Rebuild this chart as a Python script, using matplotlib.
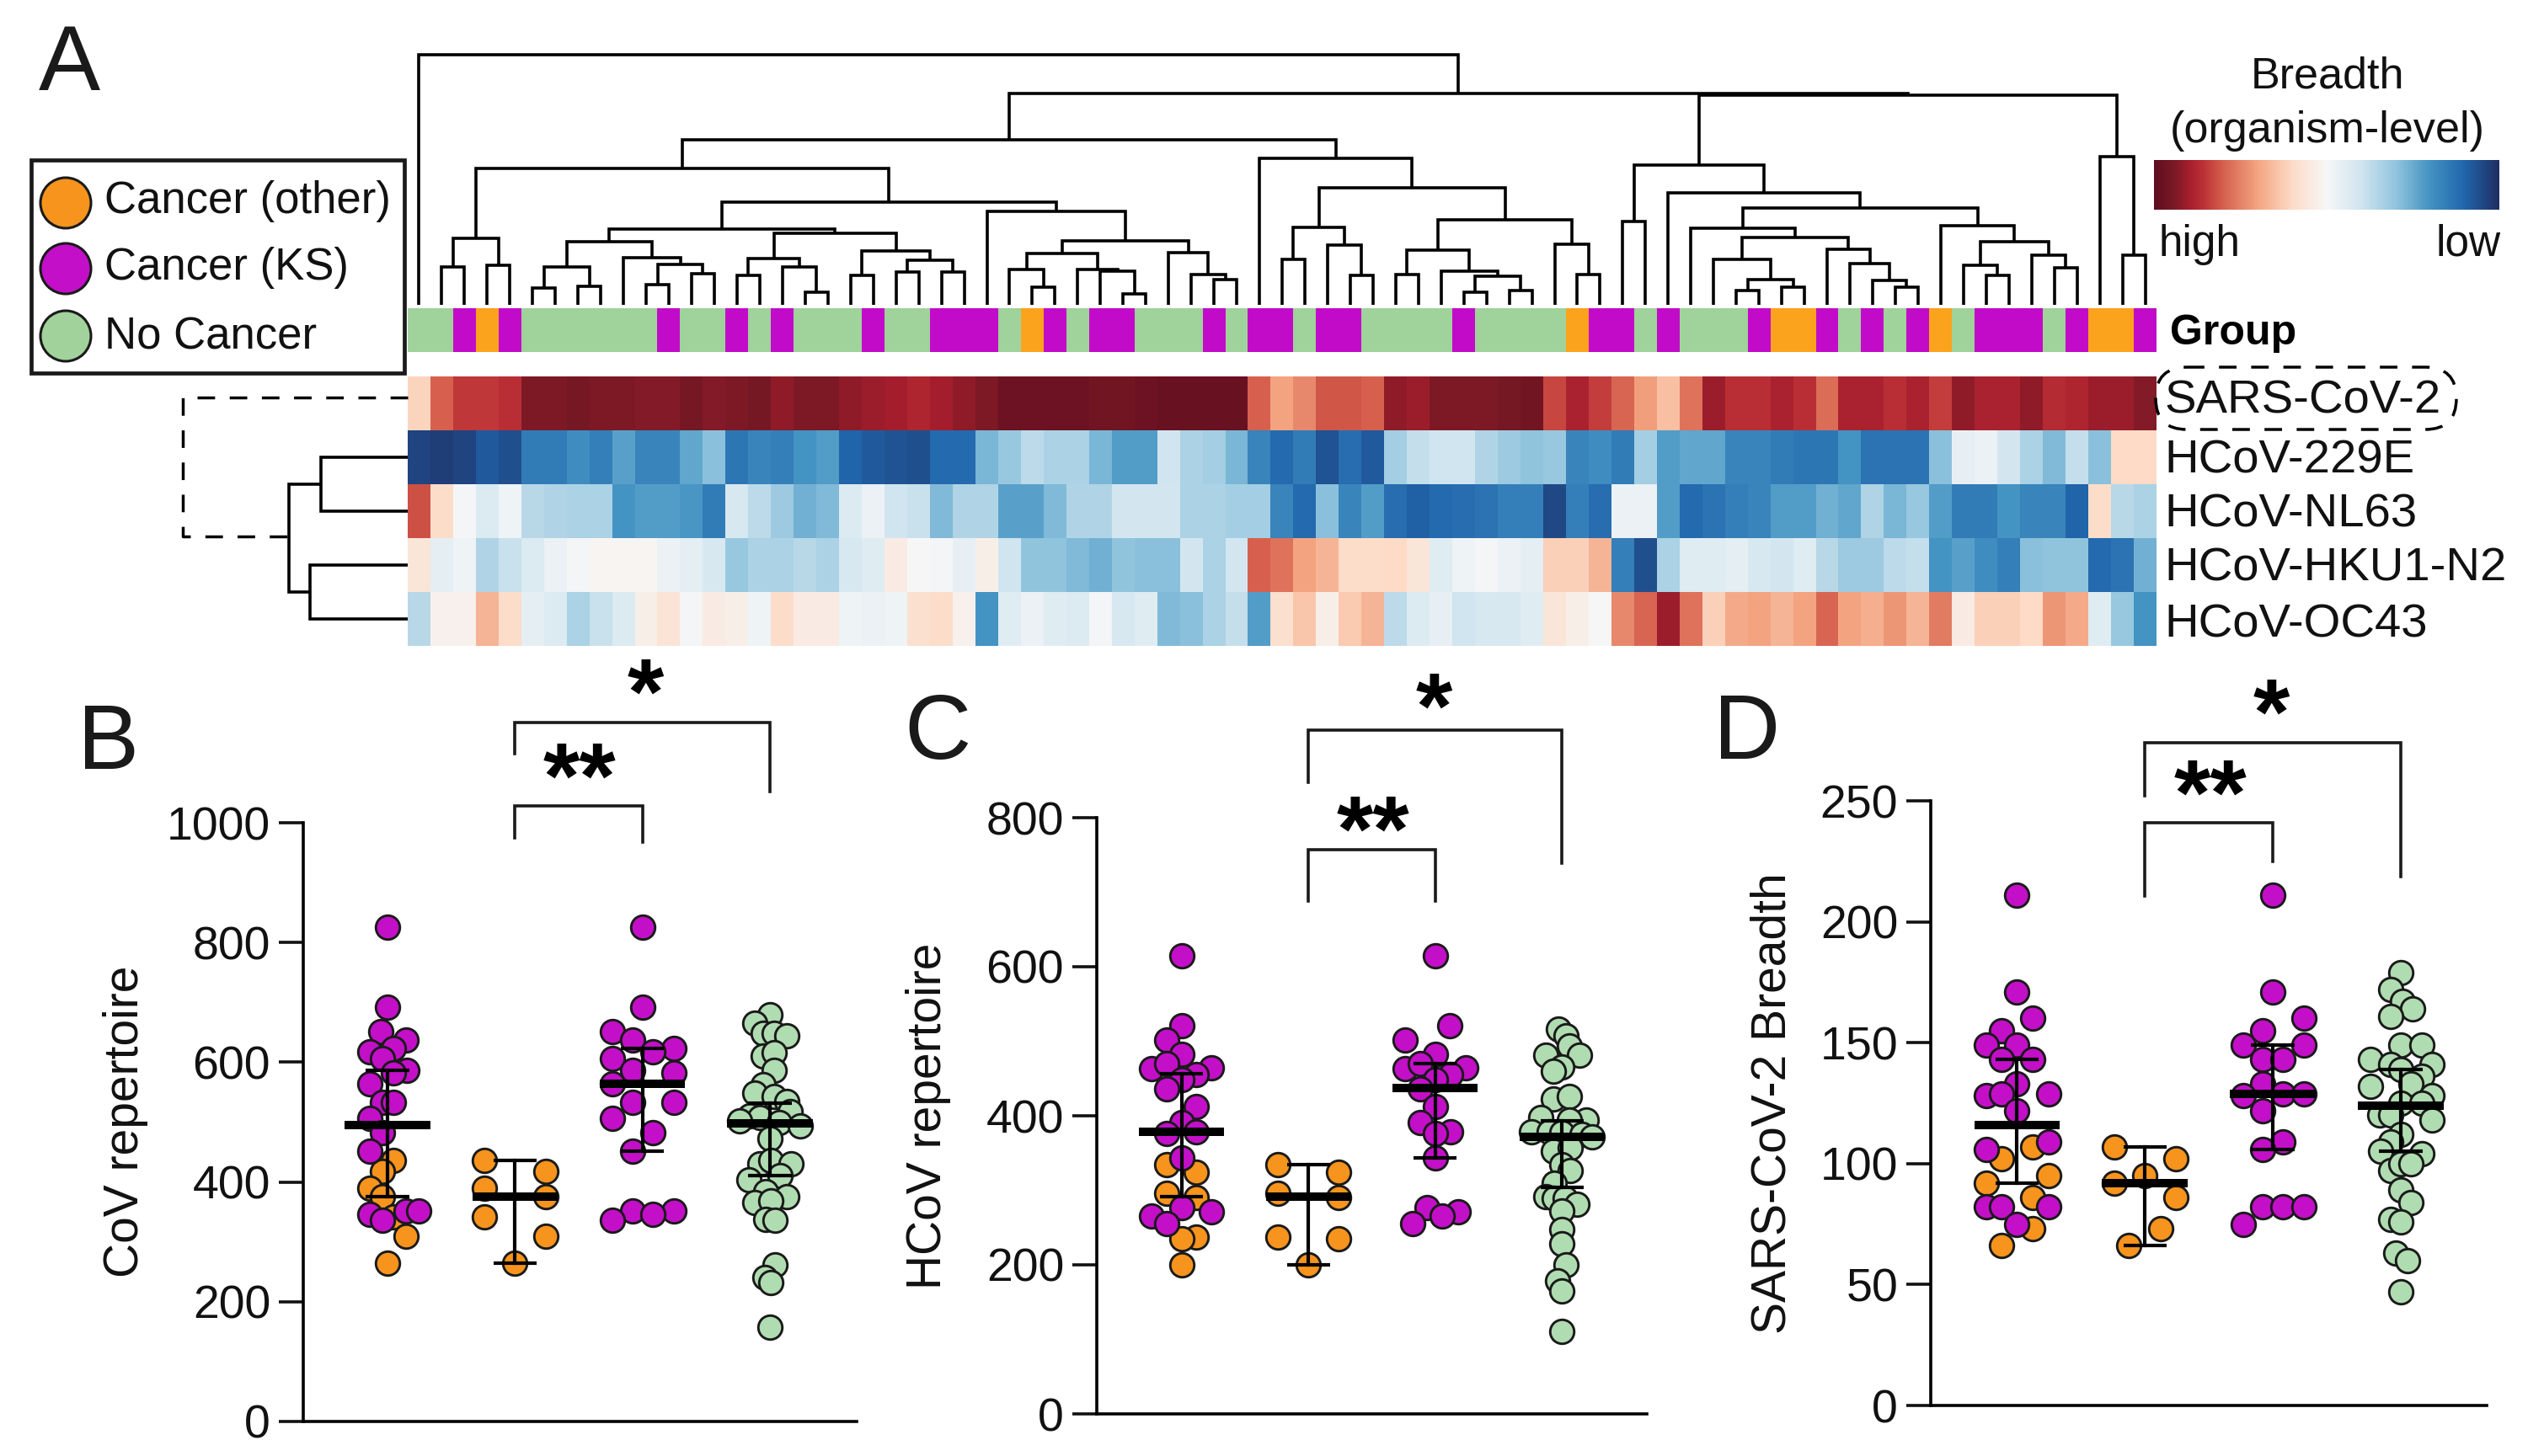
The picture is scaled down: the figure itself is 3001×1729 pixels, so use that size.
import numpy as np
import matplotlib
matplotlib.use('Agg')
import matplotlib.pyplot as plt
from matplotlib.colors import LinearSegmentedColormap, ListedColormap
from matplotlib.patches import FancyBboxPatch, Rectangle, Circle

W, H = 3001, 1729
plt.rcParams['font.family'] = ['Liberation Sans', 'DejaVu Sans']

ORANGE = '#f7941d'
MAGENTA = '#c30fc8'
GREEN = '#b0dcb1'
EDGE = '#1a1a1a'

# heatmap rows, values on a 0 (high, dark red) .. 100 (low, dark blue) scale
viruses = ['SARS-CoV-2', 'HCoV-229E', 'HCoV-NL63', 'HCoV-HKU1-N2', 'HCoV-OC43']
sars2 = [39, 20, 15, 15, 14, 6, 6, 5, 6, 6, 7, 7, 5, 7, 6, 5, 8, 6, 6, 8, 9, 10, 12, 10, 8, 6,
         3, 3, 3, 3, 4, 4, 3, 2, 2, 2, 2, 20, 30, 26, 19, 19, 20, 8, 9, 6, 6, 6, 5, 4, 17, 11,
         16, 21, 29, 35, 23, 9, 14, 14, 11, 14, 22, 11, 11, 14, 11, 16, 8, 11, 11, 8, 13, 12, 9, 9, 7]
hcov_229e = [96, 97, 96, 92, 94, 85, 85, 81, 84, 77, 83, 83, 76, 71, 86, 83, 84, 80, 78, 90, 92, 93, 94, 89, 89, 73,
             69, 63, 66, 66, 73, 78, 78, 60, 66, 67, 73, 83, 89, 85, 93, 88, 92, 67, 62, 60, 60, 65, 68, 70, 69, 83,
             81, 85, 67, 78, 76, 76, 83, 83, 85, 86, 86, 80, 87, 87, 87, 71, 54, 53, 59, 66, 72, 62, 71, 40, 40]
hcov_nl63 = [18, 41, 51, 57, 52, 64, 65, 66, 66, 80, 78, 78, 79, 85, 58, 63, 68, 74, 72, 57, 53, 60, 61, 72, 65, 65,
             77, 77, 72, 65, 65, 59, 59, 59, 66, 66, 67, 67, 83, 89, 71, 83, 78, 88, 91, 89, 88, 87, 84, 84, 95, 84,
             88, 53, 53, 78, 89, 87, 84, 83, 78, 78, 74, 76, 65, 73, 69, 78, 85, 85, 80, 83, 83, 90, 41, 64, 66]
hcov_hku1 = [44, 55, 52, 65, 61, 57, 53, 51, 49, 49, 49, 53, 55, 58, 69, 66, 66, 64, 66, 58, 56, 46, 50, 51, 54, 47,
             60, 70, 70, 72, 74, 70, 71, 71, 59, 66, 59, 20, 23, 30, 33, 41, 41, 40, 44, 56, 52, 51, 53, 55, 38, 38,
             33, 84, 94, 66, 56, 56, 55, 58, 59, 56, 64, 68, 68, 63, 62, 80, 77, 81, 84, 71, 70, 70, 89, 87, 74]
hcov_oc43 = [64, 48, 48, 33, 41, 55, 57, 66, 61, 57, 47, 43, 51, 46, 47, 52, 41, 46, 46, 52, 53, 52, 42, 41, 48, 80,
             56, 53, 56, 57, 51, 58, 56, 72, 71, 66, 62, 78, 42, 36, 47, 37, 33, 63, 57, 54, 60, 58, 58, 56, 44, 47,
             50, 26, 21, 9, 23, 38, 31, 30, 33, 30, 21, 30, 32, 28, 33, 24, 46, 38, 38, 40, 28, 31, 56, 69, 80]

# sample annotation: 0 no cancer, 1 cancer (KS), 2 cancer (other)
group_strip = [0, 0, 1, 2, 1, 0, 0, 0, 0, 0, 0, 1, 0, 0, 1, 0, 1, 0, 0, 0, 1, 0, 0, 1, 1, 1,
               0, 2, 1, 0, 1, 1, 0, 0, 0, 1, 0, 1, 1, 0, 1, 1, 0, 0, 0, 0, 1, 0, 0, 0, 0, 2,
               1, 1, 0, 1, 0, 0, 0, 1, 2, 2, 1, 0, 1, 0, 1, 2, 0, 1, 1, 1, 0, 1, 2, 2, 1]


def N(h, a, b):
    return (h, a, b)


# sample dendrogram, (height, left, right) with column numbers as leaves
tree_a = N(79, N(45, 1, 2), N(47, 3, 4))
tree_c3 = N(75, N(45, N(20, 5, 6), N(22, 7, 8)), N(56, 9, N(48, N(24, 10, 11), N(37, 12, 13))))
tree_c6 = N(85, N(55, N(35, 14, 15), N(45, 16, N(15, 17, 18))),
            N(64, N(35, 19, 20), N(53, N(39, 21, 22), N(39, 23, 24))))
tree_d3 = N(61, N(42, 26, N(21, 27, 28)), N(42, 29, N(40, 30, N(13, 31, 32))))
tree_d4 = N(62, 33, N(36, 34, N(30, 35, 36)))
tree_e = N(122, N(90, tree_c3, tree_c6), N(111, 25, N(76, tree_d3, tree_d4)))
tree_g1 = N(92, N(54, 38, 39), N(71, 40, N(35, 41, 42)))
tree_g2 = N(65, N(36, 43, 44), N(40, 45, N(34, N(15, 46, 47), N(17, 48, 49))))
tree_g5 = N(139, tree_g1, N(101, tree_g2, N(72, 50, N(36, 51, 52))))
tree_h = N(196, N(162, tree_a, tree_e), N(174, 37, tree_g5))
tree_i2 = N(66, 62, N(49, 63, N(29, 64, N(21, 65, 66))))
tree_i3 = N(54, 57, N(30, N(17, 58, 59), N(21, 60, 61)))
tree_j3 = N(75, N(47, 68, N(35, 69, 70)), N(59, 71, N(44, 72, 73)))
tree_k = N(115, N(91, 56, N(80, tree_i3, tree_i2)), N(94, 67, tree_j3))
tree_m = N(166, N(99, 53, 54), N(133, 55, tree_k))
tree_s = N(249, tree_m, N(176, 74, N(59, 75, 76)))
sample_tree = N(297, 0, N(251, tree_h, tree_s))

# virus dendrogram, same form with row numbers as leaves
row_tree = N(141, N(103, 1, 2), N(116, 3, 4))

# panel B
b_ks = [826, 692, 651, 637, 623, 618, 606, 586, 582, 564, 533, 533, 507, 482, 452, 351, 352, 346, 336]
b_ks_x1 = [0, 0, -.05, .145, .05, -.14, -.04, .15, .05, -.14, -.04, .05, -.14, -.04, -.14, .145, .245, -.14, -.04]
b_ks_x3 = [0, 0, -.235, -.08, .245, .08, -.235, -.08, .245, -.235, -.08, .245, -.235, .08, -.08, .245, -.08, .08, -.235]
b_other = [436, 418, 389, 376, 342, 310, 265]
b_other_x1 = [.05, -.04, -.14, -.04, .05, .145, 0]
b_other_x2 = [-.24, .245, -.24, .245, -.24, .245, 0]
b_none = [679, 665, 649, 649, 644, 611, 616, 586, 562, 548, 543, 534, 518, 511, 508, 502, 499,
          494, 473, 431, 436, 431, 410, 403, 384, 375, 365, 368, 337, 336, 262, 240, 232, 158]
b_none_x = [0, -.12, -.05, .03, .13, -.05, .03, .03, -.05, -.12, .03, .13, .155, -.16, -.08, -.24, .07,
            .24, 0, -.08, .005, .165, .08, -.165, -.035, .13, -.12, .005, -.035, .04, .04, -.04, .005, 0]
b_mean = [495, 376, 564, 498]
b_low = [376, 265, 452, 410]
b_high = [586, 436, 623, 532]

# panel C
c_ks = [615, 521, 502, 483, 463, 470, 464, 455, 449, 436, 412, 391, 379, 376, 344, 277, 271, 266, 255]
c_ks_x1 = [0, 0, -.12, 0, -.24, -.12, .235, .115, 0, -.12, .115, 0, .115, -.12, 0, 0, .235, -.24, -.12]
c_ks_x3 = [0, .115, -.235, 0, -.235, -.12, .24, .12, 0, -.12, 0, -.12, .12, 0, 0, -.065, .18, .055, -.18]
c_other = [335, 324, 296, 290, 237, 235, 200]
c_other_x1 = [-.12, .115, -.12, .115, .115, 0, 0]
c_other_x2 = [-.24, .24, -.24, .24, -.24, .24, 0]
c_none = [516, 507, 494, 481, 481, 466, 460, 423, 426, 398, 394, 394, 379, 379, 377, 375, 372,
          353, 357, 334, 327, 310, 291, 289, 289, 281, 272, 248, 228, 200, 178, 165, 111]
c_none_x = [-.03, .03, .06, .135, -.125, 0, -.07, -.07, .06, -.165, .19, .06, -.24, -.1, 0, .155, .24,
            -.07, .065, 0, .065, -.06, -.125, -.06, .025, .12, 0, 0, 0, .035, -.035, 0, 0]
c_mean = [378, 291, 437, 372]
c_low = [291, 200, 344, 304]
c_high = [456, 335, 470, 393]

# panel D
d_ks = [211, 171, 160, 155, 149, 149, 143, 143, 133, 128, 129, 129, 122, 109, 106, 82, 82, 82, 75]
d_ks_x1 = [0, 0, .12, -.12, -.24, 0, -.12, .12, 0, -.24, -.12, .245, 0, .245, -.24, -.24, -.12, .245, 0]
d_ks_x3 = [0, 0, .245, -.08, -.235, .245, -.08, .08, -.08, -.235, .08, .245, -.08, .08, -.08, -.08, .08, .245, -.235]
d_other = [107, 102, 95, 92, 86, 73, 66]
d_other_x1 = [.12, -.12, .245, -.24, .12, .12, -.12]
d_other_x2 = [-.24, .24, 0, -.24, .24, .12, -.125]
d_none = [179, 172, 167, 164, 161, 149, 149, 143, 141, 141, 139, 136, 133, 132, 128, 125, 125,
          120, 120, 118, 112, 109, 105, 104, 97, 100, 100, 89, 84, 77, 76, 63, 60, 47]
d_none_x = [0, -.08, .015, .09, -.08, 0, .165, -.24, -.08, .245, 0, .165, .08, -.24, .245, 0, .165,
            -.165, -.08, .245, 0, -.08, -.16, .165, -.08, 0, .08, 0, .08, -.08, 0, -.04, .05, 0]
d_mean = [116, 92, 129, 124]
d_low = [92, 66, 106, 105]
d_high = [143, 107, 149, 139]


def axes_px(fig, x0, y0, x1, y1):
    # axes from pixel box, y counted from the top of the picture
    return fig.add_axes([x0 / W, 1 - y1 / H, (x1 - x0) / W, (y1 - y0) / H])


def tree_lines(node, out):
    # returns (position, height) of the node, collects the U shapes in out
    if not isinstance(node, tuple):
        return node + 0.5, 0
    h, left, right = node
    xa, ha = tree_lines(left, out)
    xb, hb = tree_lines(right, out)
    out.append(([xa, xa, xb, xb], [ha, h, h, hb]))
    return (xa + xb) / 2, h


def draw_panel(fig, box, ylim, yticks, xlim, ks, ks_x1, ks_x3, other, other_x1, other_x2,
               none, none_x, mean, low, high, brackets):
    ax = axes_px(fig, *box)
    ax.set_xlim(*xlim)
    ax.set_ylim(*ylim)
    # mixed cancer column, then the three groups
    ax.scatter(other_x1, other, s=420, c=ORANGE, edgecolors=EDGE, linewidths=2.1, zorder=3, clip_on=False)
    ax.scatter(ks_x1, ks, s=420, c=MAGENTA, edgecolors=EDGE, linewidths=2.1, zorder=3, clip_on=False)
    ax.scatter(1 + np.array(other_x2), other, s=420, c=ORANGE, edgecolors=EDGE, linewidths=2.1, zorder=3)
    ax.scatter(2 + np.array(ks_x3), ks, s=420, c=MAGENTA, edgecolors=EDGE, linewidths=2.1, zorder=3)
    ax.scatter(3 + np.array(none_x), none, s=420, c=GREEN, edgecolors=EDGE, linewidths=2.1, zorder=3)
    for i in range(4):
        ax.plot([i, i], [low[i], high[i]], color='black', lw=3, zorder=5)
        for v in (low[i], high[i]):
            ax.plot([i - .17, i + .17], [v, v], color='black', lw=3, zorder=5, solid_capstyle='butt')
        ax.plot([i - .335, i + .335], [mean[i], mean[i]], color='black', lw=7.2, zorder=6, solid_capstyle='butt')
    # significance brackets: x left, x right, top, left end, right end
    for xa, xb, top, ya, yb in brackets:
        ax.plot([xa, xa, xb, xb], [ya, top, top, yb], color='#1a1a1a', lw=2.6, clip_on=False,
                solid_joinstyle='miter')
    ax.spines['top'].set_visible(False)
    ax.spines['right'].set_visible(False)
    ax.spines['left'].set_linewidth(2.6)
    ax.spines['bottom'].set_linewidth(2.6)
    ax.set_xticks([])
    ax.set_yticks(yticks)
    ax.tick_params(axis='y', length=21, width=2.6, labelsize=40, pad=7, colors='#111111')
    ax.patch.set_alpha(0)
    return ax


fig = plt.figure(figsize=(W / 100, H / 100), dpi=100)

# heatmap colours, RdBu like ramp with the duller dark ends of the original key
heat_cmap = LinearSegmentedColormap.from_list(
    'breadth', [(0, '#5f0d20'), (.06, '#7d1a26'), (.1, '#a51e2d'), (.14, '#bb3036'), (.2, '#d6604d'),
                (.3, '#f4a582'), (.4, '#fddbc7'), (.5, '#f7f7f7'), (.6, '#d1e5f0'), (.7, '#92c5de'),
                (.8, '#4393c3'), (.9, '#2166ac'), (1, '#1f2f63')])

heat = np.array([sars2, hcov_229e, hcov_nl63, hcov_hku1, hcov_oc43], dtype=float)
ax_heat = axes_px(fig, 484, 447, 2560, 767)
ax_heat.imshow(heat, cmap=heat_cmap, vmin=0, vmax=100, aspect='auto', interpolation='nearest',
               extent=(0, heat.shape[1], heat.shape[0], 0))
ax_heat.axis('off')

ax_strip = axes_px(fig, 484, 366, 2560, 418)
ax_strip.imshow(np.array([group_strip]), cmap=ListedColormap(['#a0d29b', '#c20bc8', '#fca31d']),
                vmin=0, vmax=2, aspect='auto', interpolation='nearest')
ax_strip.axis('off')

ax_tree = axes_px(fig, 484, 40, 2560, 362)
ax_tree.set_xlim(0, heat.shape[1])
ax_tree.set_ylim(0, 322)
ax_tree.axis('off')
segments = []
tree_lines(sample_tree, segments)
for xs, ys in segments:
    ax_tree.plot(xs, ys, color='black', lw=2.6, solid_joinstyle='miter', solid_capstyle='butt')

ax_rows = axes_px(fig, 217, 447, 484, 767)
ax_rows.set_xlim(267, 0)
ax_rows.set_ylim(5, 0)
ax_rows.axis('off')
segments = []
tree_lines(row_tree, segments)
for xs, ys in segments:
    ax_rows.plot(ys, xs, color='black', lw=2.6, solid_joinstyle='miter', solid_capstyle='butt')

ax_key = axes_px(fig, 2557, 190, 2967, 249)
ax_key.imshow(np.linspace(0, 100, 256)[None, :], cmap=heat_cmap, vmin=0, vmax=100, aspect='auto')
ax_key.axis('off')

draw_panel(fig, (360, 977, 1017, 1688), (0, 1000), [0, 200, 400, 600, 800, 1000], (-.66, 3.68),
           b_ks, b_ks_x1, b_ks_x3, b_other, b_other_x1, b_other_x2, b_none, b_none_x,
           b_mean, b_low, b_high, [(1, 3, 1168, 1115, 1052), (1, 2, 1028, 975, 967)])
draw_panel(fig, (1302, 971, 1955, 1679), (0, 800), [0, 200, 400, 600, 800], (-.67, 3.67),
           c_ks, c_ks_x1, c_ks_x3, c_other, c_other_x1, c_other_x2, c_none, c_none_x,
           c_mean, c_low, c_high, [(1, 3, 918, 847, 739), (1, 2, 757, 688, 688)])
draw_panel(fig, (2292, 951, 2952, 1669), (0, 250), [0, 50, 100, 150, 200, 250], (-.674, 3.67),
           d_ks, d_ks_x1, d_ks_x3, d_other, d_other_x1, d_other_x2, d_none, d_none_x,
           d_mean, d_low, d_high, [(1, 3, 274, 252, 218.5), (1, 2, 241, 210.5, 225)])

# everything else sits on one overlay in picture pixels
ov = fig.add_axes([0, 0, 1, 1], zorder=10)
ov.set_xlim(0, W)
ov.set_ylim(H, 0)
ov.axis('off')

for letter, x, y in [('A', 46, 107), ('B', 92, 913), ('C', 1073, 901), ('D', 2034, 901)]:
    ov.text(x, y, letter, fontsize=79, ha='left', va='baseline', color='#1a1a1a')

ov.add_patch(Rectangle((37, 190), 443, 253, fill=False, edgecolor='#1a1a1a', lw=3.4))
legend_labels = ['Cancer (other)', 'Cancer (KS)', 'No Cancer']
legend_colors = [ORANGE, MAGENTA, '#a1d29b']
for label, col, cy, ty in zip(legend_labels, legend_colors, [241, 319, 399], [239, 318, 400]):
    ov.add_patch(Circle((78, cy), 30, facecolor=col, edgecolor=EDGE, lw=2.2))
    ov.text(124, ty, label, fontsize=38, ha='left', va='center', color='#111111')

for name, y in zip(viruses, [476, 548, 611, 676, 742]):
    ov.text(2569, y, name, fontsize=40.5, ha='left', va='center', color='#111111')
ov.text(2576, 396, 'Group', fontsize=36, fontweight='bold', ha='left', va='center', color='black')
ov.text(2763, 91, 'Breadth', fontsize=37.5, ha='center', va='center', color='#111111')
ov.text(2763, 155, '(organism-level)', fontsize=37.5, ha='center', va='center', color='#111111')
ov.text(2563, 290, 'high', fontsize=37, ha='left', va='center', color='#111111')
ov.text(2969, 290, 'low', fontsize=37, ha='right', va='center', color='#111111')

ov.add_patch(FancyBboxPatch((2559, 436), 357, 74, boxstyle='round,pad=0,rounding_size=37', fill=False,
                            edgecolor='black', lw=2.5, linestyle=(0, (6, 5))))
ov.plot([484, 217, 217, 342], [472, 472, 637, 637], color='black', lw=2.5, linestyle=(0, (6, 5)))

ov.text(149, 1332, 'CoV repertoire', fontsize=41, rotation=90, ha='center', va='center', color='#111111')
ov.text(1102, 1325, 'HCoV repertoire', fontsize=41, rotation=90, ha='center', va='center', color='#111111')
ov.text(2105, 1310, 'SARS-CoV-2 Breadth', fontsize=41, rotation=90, ha='center', va='center', color='#111111')

for stars, x, y in [('*', 766, 807), ('**', 688, 907), ('*', 1702, 824), ('**', 1630, 970),
                    ('*', 2696, 831), ('**', 2624, 927)]:
    ov.text(x, y + 24, stars, fontsize=80, fontweight='bold', ha='center', va='center', color='black')

fig.savefig('out.png', dpi=100)
